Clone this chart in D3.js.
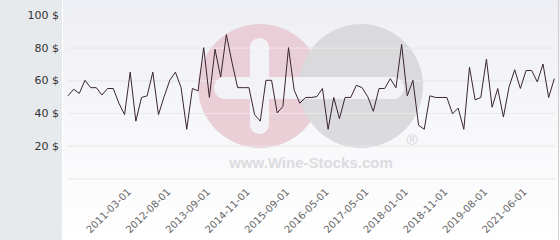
<!DOCTYPE html>
<html>
<head>
<meta charset="utf-8">
<script src="https://cdn.jsdelivr.net/npm/d3@7"></script>
<style>
  body { margin: 0; background: #fff; }
  svg { display: block; font-family: "DejaVu Sans", sans-serif; }
</style>
</head>
<body>
<div id="chart"></div>
<script>
// monthly prices, one per observation
var prices = [50.5, 54.5, 52, 60, 55.5, 55.5, 51, 55, 55, 46, 39, 65, 35, 49.5, 50.5, 65, 39, 50, 60, 65,
  55.5, 30, 55, 53.5, 80, 49.5, 79, 62, 88, 71, 55.5, 55.5, 55.5, 39, 35, 60, 60, 40, 44, 80,
  54, 46, 49.5, 49.5, 50, 55, 30, 49.5, 36.5, 49.5, 49.5, 57, 55.5, 50, 41, 55, 55, 61, 55.5, 82,
  50.5, 60, 32.5, 30, 50.5, 49.5, 49.5, 49.5, 39.5, 43, 30, 68, 48, 49.5, 73, 43.5, 55, 37.5, 56, 66.5,
  55, 66, 66, 59, 70, 49.5, 61];

// x tick labels and the observation they sit on
var tickIndex = [10, 17, 24, 31, 38, 45, 52, 59, 66, 73, 80];
var tickLabels = ["2011-03-01", "2012-08-01", "2013-09-01", "2014-11-01", "2015-09-01", "2016-05-01",
  "2017-05-01", "2018-01-01", "2018-11-01", "2019-08-01", "2021-06-01"];

var yTicks = [0, 20, 40, 60, 80, 100];

var width = 560, height = 240;

var svg = d3.select("#chart")
  .append("svg")
  .attr("width", width)
  .attr("height", height);

var defs = svg.append("defs");
var grad = defs.append("linearGradient")
  .attr("id", "bg")
  .attr("x1", 0).attr("y1", 0).attr("x2", 0).attr("y2", 1);
grad.append("stop").attr("offset", "0%").attr("stop-color", "#eeeff4");
grad.append("stop").attr("offset", "100%").attr("stop-color", "#ffffff");

// backgrounds
svg.append("rect")
  .attr("x", 63).attr("y", 0)
  .attr("width", width - 63).attr("height", height)
  .attr("fill", "url(#bg)");
svg.append("rect")
  .attr("x", 0).attr("y", 0)
  .attr("width", 62).attr("height", height)
  .attr("fill", "#e6eaed");
svg.append("line")
  .attr("x1", 558.5).attr("x2", 558.5)
  .attr("y1", 0).attr("y2", height)
  .attr("stroke", "#d0d0d0");

var x = d3.scaleLinear()
  .domain([0, prices.length - 1])
  .range([68, 554.3]);

var y = d3.scaleLinear()
  .domain([0, 100])
  .range([178.3, 15]);

// gridlines
var grid = svg.append("g")
  .attr("transform", "translate(68,0)")
  .call(d3.axisLeft(y).tickValues(yTicks).tickSize(-487).tickFormat(""));
grid.select(".domain").remove();
grid.selectAll("line").attr("stroke", "#dcdcdc");

// watermark
var wm = svg.append("g").attr("class", "watermark").attr("opacity", 0.9);
wm.append("circle").attr("cx", 260).attr("cy", 86).attr("r", 62).attr("fill", "#e9cbd4");
wm.append("circle").attr("cx", 361).attr("cy", 86).attr("r", 62).attr("fill", "#d8d8da");
wm.append("rect").attr("x", 214).attr("y", 77).attr("width", 190).attr("height", 22).attr("rx", 11)
  .attr("fill", "#f3f3f7");
wm.append("rect").attr("x", 250).attr("y", 38).attr("width", 19).attr("height", 96).attr("rx", 9.5)
  .attr("fill", "#f3f3f7");
wm.append("text")
  .attr("x", 311).attr("y", 168)
  .attr("text-anchor", "middle")
  .attr("font-family", "Liberation Sans, Arial, sans-serif")
  .attr("font-weight", "bold")
  .attr("font-size", 15)
  .attr("fill", "#d9d9dc")
  .text("www.Wine-Stocks.com");
wm.append("text")
  .attr("x", 412).attr("y", 145)
  .attr("text-anchor", "middle")
  .attr("font-family", "Liberation Sans, Arial, sans-serif")
  .attr("font-size", 15)
  .attr("fill", "#d2d2d4")
  .text("\u00AE");

// redraw gridlines faintly over the watermark
var grid2 = svg.append("g")
  .attr("transform", "translate(68,0)")
  .call(d3.axisLeft(y).tickValues(yTicks).tickSize(-487).tickFormat(""));
grid2.select(".domain").remove();
grid2.selectAll("line").attr("stroke", "#ffffff").attr("stroke-opacity", 0.45);

// y labels
var yAxis = svg.append("g")
  .attr("transform", "translate(62,0)")
  .call(d3.axisLeft(y).tickValues(yTicks.slice(1)).tickSize(0).tickPadding(3)
    .tickFormat(function(d) { return d + " $"; }));
yAxis.select(".domain").remove();
yAxis.selectAll("text")
  .attr("font-family", "DejaVu Sans, sans-serif")
  .attr("font-size", 11)
  .attr("fill", "#333");

// x labels
var xAxis = svg.append("g")
  .attr("transform", "translate(0,188)")
  .call(d3.axisBottom(x).tickValues(tickIndex).tickSize(0)
    .tickFormat(function(d, i) { return tickLabels[i]; }));
xAxis.select(".domain").remove();
xAxis.selectAll("text")
  .attr("font-family", "DejaVu Sans, sans-serif")
  .attr("font-size", 10)
  .attr("fill", "#666")
  .attr("text-anchor", "end")
  .attr("dy", "0.35em")
  .attr("transform", "translate(2,0) rotate(-45)");

// price line
var line = d3.line()
  .x(function(d, i) { return x(i); })
  .y(function(d) { return y(d); });

svg.append("path")
  .datum(prices)
  .attr("d", line)
  .attr("fill", "none")
  .attr("stroke", "#3a2530")
  .attr("stroke-width", 1);
</script>
</body>
</html>
